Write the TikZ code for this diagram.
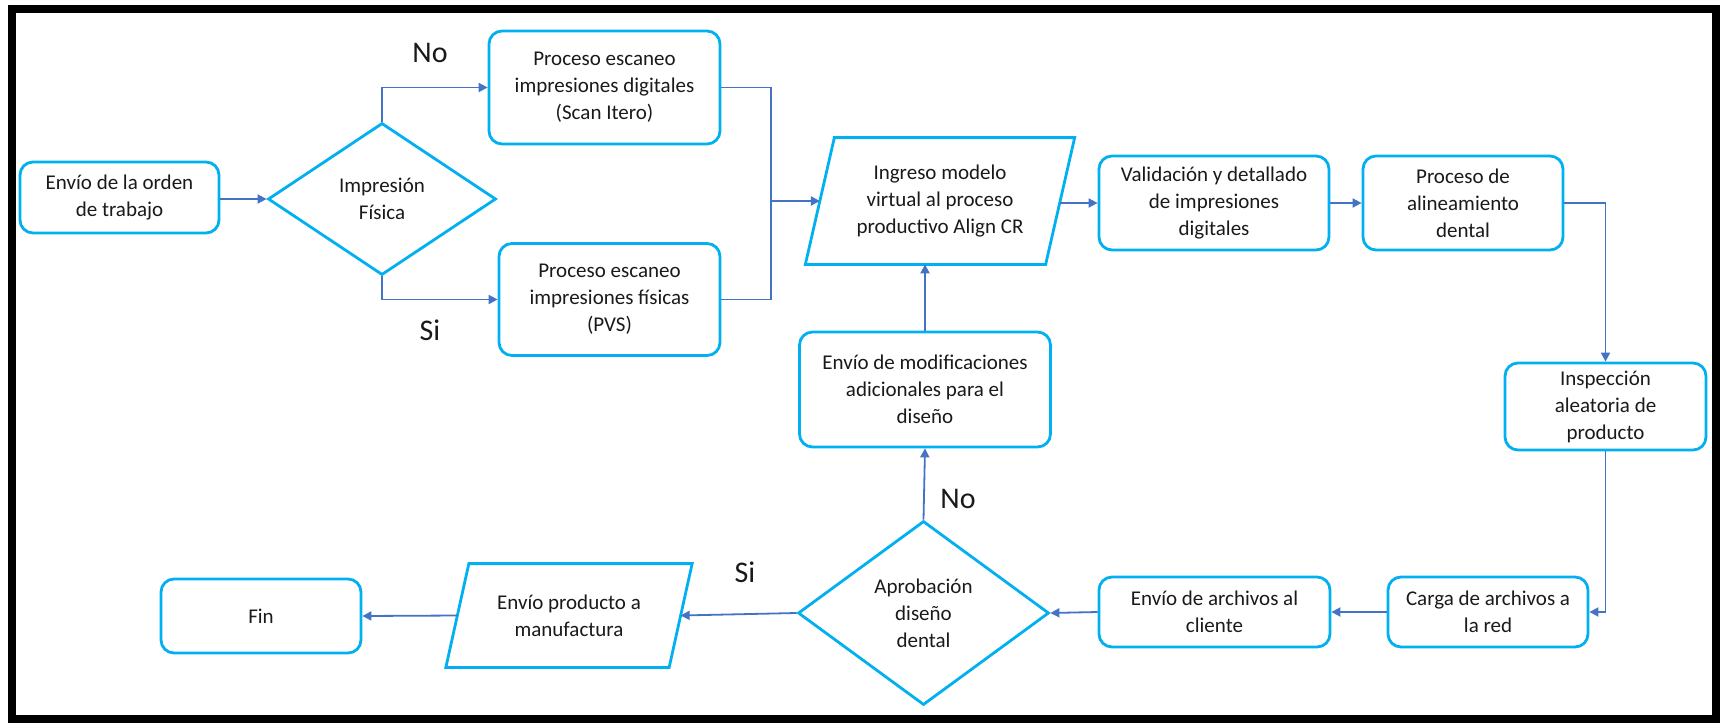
\documentclass[tikz,border=0pt]{standalone}
\usepackage{fontspec}
\setmainfont{Carlito}
\usetikzlibrary{arrows.meta,shapes.geometric}
\definecolor{boxc}{HTML}{00B0F0}
\definecolor{linec}{HTML}{4472C4}
\definecolor{txtc}{HTML}{1A1A1A}
\begin{document}
\begin{tikzpicture}[x=0.5pt,y=-0.5pt,
  every node/.style={font=\fontsize{10.5}{13.5}\selectfont, align=center, inner sep=0pt, text=txtc},
  rbox/.style={rectangle, draw=boxc, line width=1.4pt, rounded corners=6.5pt},
  dia/.style={diamond, draw=boxc, line width=1.4pt},
  pbox/.style={rectangle, draw=none},
  pline/.style={draw=boxc, line width=1.4pt, line join=miter},
  conn/.style={draw=linec, line width=0.9pt},
  arr/.style={conn, -{Triangle[length=4.5pt,width=4.5pt]}},
  lbl/.style={font=\fontsize{15}{18}\selectfont}
]
\useasboundingbox (0,0) rectangle (1723,723);
\fill[white] (0,0) rectangle (1723,723);
\draw[line width=4pt] (12,9) rectangle (1716,719);

% nodes
\node[rbox, minimum width=99.5pt, minimum height=35.5pt] (A) at (119.5,197.5) {Envío de la orden\\de trabajo};
\node[dia, minimum width=114pt, minimum height=76pt] (D1) at (382,199) {Impresión\\Física};
\node[rbox, minimum width=115.5pt, minimum height=56.5pt] (B1) at (604.5,87.5) {Proceso escaneo\\impresiones digitales\\(Scan Itero)};
\node[rbox, minimum width=110.5pt, minimum height=56pt] (B2) at (609.5,299.5) {Proceso escaneo\\impresiones físicas\\(PVS)};
\node[pbox, minimum width=119.75pt, minimum height=63pt] (C) at (940,201) {Ingreso modelo\\virtual al proceso\\productivo Align CR};
\draw[pline] ([xshift=7.25pt]C.north west) -- ([xshift=7.25pt]C.north east) -- ([xshift=-7.25pt]C.south east) -- ([xshift=-7.25pt]C.south west) -- cycle;
\node[rbox, minimum width=115pt, minimum height=47pt] (E) at (1214,203) {Validación y detallado\\de impresiones\\digitales};
\node[rbox, minimum width=100pt, minimum height=47pt] (F) at (1463,203) {Proceso de\\alineamiento\\dental};
\node[rbox, minimum width=100.5pt, minimum height=43.5pt] (G) at (1605.5,406.5) {Inspección\\aleatoria de\\producto};
\node[rbox, minimum width=100pt, minimum height=35pt] (H) at (1488,612) {Carga de archivos a\\la red};
\node[rbox, minimum width=115.5pt, minimum height=35pt] (I) at (1214.5,612) {Envío de archivos al\\cliente};
\node[dia, minimum width=125.5pt, minimum height=92pt] (D2) at (923.5,613) {Aprobación\\diseño\\dental};
\node[rbox, minimum width=125.5pt, minimum height=57.5pt] (J) at (925,389.5) {Envío de modificaciones\\adicionales para el\\diseño};
\node[pbox, minimum width=111.25pt, minimum height=51.5pt] (K) at (569,615.5) {Envío producto a\\manufactura};
\draw[pline] ([xshift=5.75pt]K.north west) -- ([xshift=5.75pt]K.north east) -- ([xshift=-5.75pt]K.south east) -- ([xshift=-5.75pt]K.south west) -- cycle;
\node[rbox, minimum width=100pt, minimum height=37pt] (Fin) at (261,616) {Fin};

% labels
\node[lbl] (no1) at (430,53) {No};
\node[lbl] (si1) at (430,330) {Si};
\node[lbl] (no2) at (958,499) {No};
\node[lbl] (si2) at (745,572) {Si};

% connectors
\coordinate (m) at (771,201);
\draw[arr] (A.east |- D1.west) -- (D1.west);
\draw[arr] (D1.north) |- (B1.west);
\draw[arr] (D1.south) |- (B2.west);
\draw[conn] (B1.east) -| (m);
\draw[conn] (B2.east) -| (m);
\draw[arr, line width=1.2pt] (m) -- (C.west);
\draw[arr] (E.west -| C.east) -- (E.west);
\draw[arr] (E.east) -- (F.west);
\draw[arr] (F.east) -| (G.north);
\draw[arr] (G.south) |- (H.east);
\draw[arr] (H.west) -- (I.east);
\draw[arr] (I.west) -- (D2.east);
\draw[arr] (D2.north) -- (J.south);
\draw[arr] (J.north) -- (J.north |- C.south);
\draw[arr] (D2.west) -- (K.east);
\draw[arr] (K.west) -- (Fin.east);
\end{tikzpicture}
\end{document}
